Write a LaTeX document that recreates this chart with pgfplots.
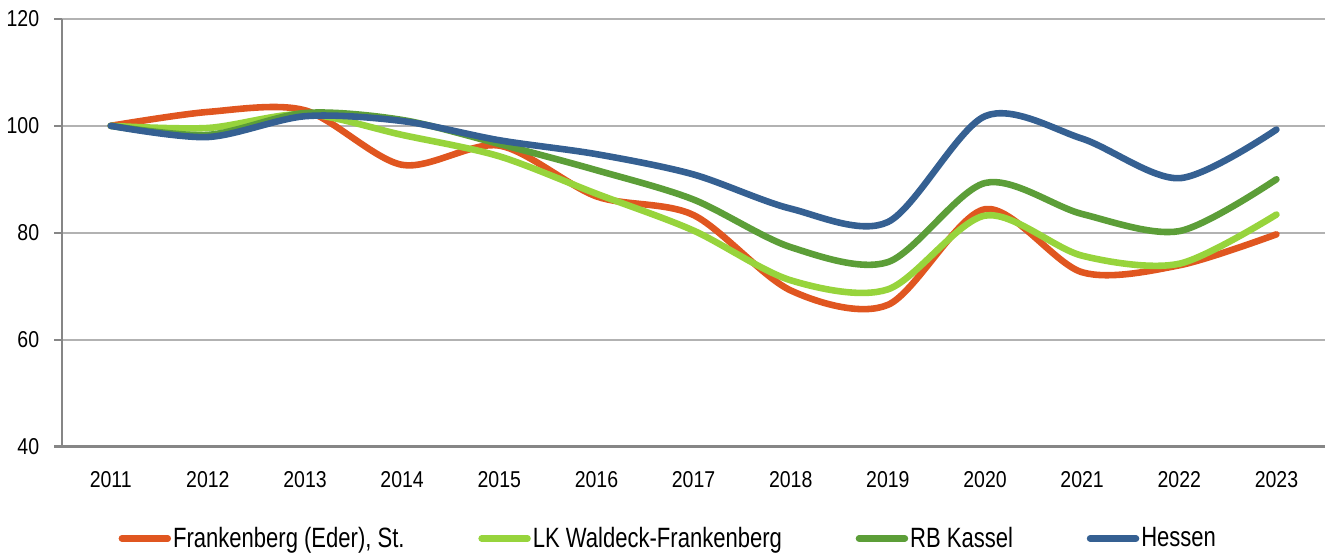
\documentclass[border=0pt]{standalone}
\usepackage{fontspec}
\setmainfont{Liberation Sans}[FakeStretch=0.79]
\newfontfamily\tickfont{Liberation Sans}[FakeStretch=0.85]
\usepackage{pgfplots}
\pgfplotsset{compat=1.18}
\usetikzlibrary{calc}

\definecolor{cOrange}{RGB}{224,86,32}
\definecolor{cLight}{RGB}{151,212,60}
\definecolor{cDark}{RGB}{92,158,56}
\definecolor{cBlue}{RGB}{53,96,146}
\definecolor{cGrid}{RGB}{178,178,178}
\definecolor{cAxis}{RGB}{134,134,134}

\begin{document}
\begin{tikzpicture}
\begin{axis}[
    name=ax,
    scale only axis,
    width=633.5pt, height=214.5pt,
    xmin=-0.5, xmax=12.5,
    ymin=40, ymax=120,
    axis lines=left,
    axis line style={cAxis, line width=1.1pt, -},
    xtick={0,...,12},
    xticklabels={2011,2012,2013,2014,2015,2016,2017,2018,2019,2020,2021,2022,2023},
    minor xtick={-0.5,0.5,...,12.5},
    x tick style={draw=none},
    minor x tick style={cAxis, line width=1.1pt},
    minor tick length=5pt,
    ytick={40,60,...,120},
    y tick style={cAxis, line width=1.1pt},
    major tick length=4pt,
    tick align=outside,
    ymajorgrids,
    major grid style={cGrid, line width=0.9pt},
    tick label style={font=\tickfont\fontsize{11.5}{13}\selectfont},
    xticklabel style={yshift=-5pt},
    yticklabel style={xshift=-4pt},
    /pgf/number format/assume math mode=true,
    every axis plot/.append style={smooth, tension=0.5, line width=3.3pt, line cap=round, line join=round, no marks},
    legend columns=4,
    legend style={at={(0.48,-0.215)}, anchor=center, draw=none, fill=none,
        font=\fontsize{14}{16}\selectfont,
        /tikz/every even column/.append style={column sep=36pt},
        /tikz/every odd column/.append style={column sep=0pt},
        nodes={inner xsep=1pt}},
    legend image code/.code={\draw[#1, line width=3.3pt, line cap=round] (0pt,0pt) -- (23pt,0pt);},
]
\addplot[cOrange] coordinates {
(0,100) (1,102.6) (2,102.9) (3,92.7) (4,96.3) (5,86.8) (6,83.3) (7,69.2) (8,66.5) (9,84.4) (10,72.6) (11,73.9) (12,79.7)};
\addlegendentry{Frankenberg (Eder), St.}
\addplot[cLight] coordinates {
(0,100) (1,99.6) (2,102.2) (3,98.3) (4,94.3) (5,87.3) (6,80.4) (7,71.1) (8,69.4) (9,83.2) (10,75.7) (11,74.2) (12,83.4)};
\addlegendentry{LK Waldeck-Frankenberg}
\addplot[cDark] coordinates {
(0,100) (1,98.3) (2,102.4) (3,101.1) (4,96.6) (5,91.7) (6,86.2) (7,77.3) (8,74.5) (9,89.3) (10,83.5) (11,80.3) (12,90.0)};
\addlegendentry{RB Kassel}
\addplot[cBlue] coordinates {
(0,100) (1,97.9) (2,101.8) (3,100.9) (4,97.3) (5,94.7) (6,90.9) (7,84.5) (8,82.0) (9,101.8) (10,97.6) (11,90.2) (12,99.3)};
\addlegendentry{Hessen}
\end{axis}
\path ($(ax.south west)+(-29pt,-54pt)$) rectangle ($(ax.north east)+(2pt,9.5pt)$);
\end{tikzpicture}
\end{document}
